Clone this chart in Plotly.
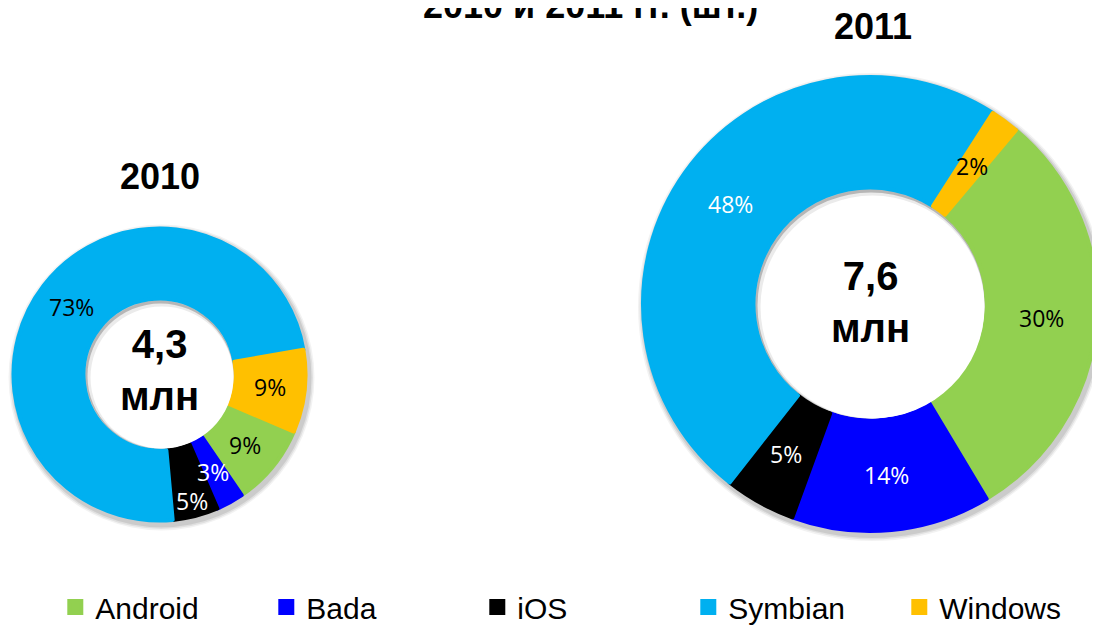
import math
import plotly.graph_objects as go

# ---- data ----
platforms = ["Android", "Bada", "iOS", "Symbian", "Windows"]
share_2010 = [9, 3, 5, 73, 9]
share_2011 = [30, 14, 5, 48, 2]
total_2010 = "4,3<br>млн"
total_2011 = "7,6<br>млн"
colors = ["#92D050", "#0000FF", "#000000", "#00B0F0", "#FFC000"]
label_colors_2010 = ["#000000", "#FFFFFF", "#FFFFFF", "#000000", "#000000"]
label_colors_2011 = ["#000000", "#FFFFFF", "#FFFFFF", "#FFFFFF", "#000000"]
title_line = "2010 и 2011 гг. (шт.)"
year_2010 = "2010"
year_2011 = "2011"

W, H = 1100, 625
OFF = 8  # page body margin shifts the figure by 8px


def fx(px):
    return (px - OFF) / W


def fy(py):
    return (H - (py - OFF)) / H


fig = go.Figure()

# layout of each donut: centre x, centre y, radius, rotation, centre-text y,
# radial position factor of each label (as Excel nudges a crowded one outward)
pies = [
    (share_2010, label_colors_2010, year_2010, total_2010,
     dict(cx=159.5, cy=374.5, R=148, rot=113, ty=369.5,
          lab_r=[0.75, 0.75, 0.88, 0.75, 0.75])),
    (share_2011, label_colors_2011, year_2011, total_2011,
     dict(cx=870, cy=304, R=229, rot=40, ty=302.5,
          lab_r=[0.75, 0.75, 0.75, 0.75, 0.75])),
]

LW = 4  # slice outline (same colour as fill)
shapes = []
for vals, lcols, year, total, g in pies:
    cx, cy, R, rot = g["cx"], g["cy"], g["R"], g["rot"]
    Rd = R - LW / 2
    hole = (0.5 * R + LW / 2) / Rd
    # soft outer shadow
    for k, a in [(5, 0.05), (3.5, 0.07), (2, 0.09)]:
        shapes.append(dict(type="circle", xref="paper", yref="paper", layer="below",
                           x0=fx(cx + 2 - R - k), x1=fx(cx + 2 + R + k),
                           y0=fy(cy + 3 + R + k), y1=fy(cy + 3 - R - k),
                           line=dict(width=0), fillcolor="rgba(0,0,0,%s)" % a))
    fig.add_trace(go.Pie(
        labels=platforms, values=vals, sort=False, direction="clockwise",
        rotation=rot, hole=hole,
        marker=dict(colors=colors, line=dict(width=LW, color=colors)),
        textinfo="none",
        domain=dict(x=[fx(cx - Rd), fx(cx + Rd)], y=[fy(cy + Rd), fy(cy - Rd)]),
        hoverinfo="label+value", name=year,
    ))
    # inner shadow of the hole (crescent on the upper-left)
    ri = 0.5 * R
    shapes.append(dict(type="circle", xref="paper", yref="paper", layer="above",
                       x0=fx(cx - ri), x1=fx(cx + ri), y0=fy(cy + ri), y1=fy(cy - ri),
                       line=dict(width=0), fillcolor="rgba(0,0,0,0.10)"))
    shapes.append(dict(type="circle", xref="paper", yref="paper", layer="above",
                       x0=fx(cx - ri + 2), x1=fx(cx + ri), y0=fy(cy + ri), y1=fy(cy - ri + 3),
                       line=dict(width=0), fillcolor="rgba(235,235,235,1)"))
    shapes.append(dict(type="circle", xref="paper", yref="paper", layer="above",
                       x0=fx(cx - ri + 5), x1=fx(cx + ri), y0=fy(cy + ri), y1=fy(cy - ri + 6),
                       line=dict(width=0), fillcolor="white"))

    # data labels at the middle of the ring, mid-angle of each slice
    total_v = float(sum(vals))
    start = rot
    for v, c, f in zip(vals, lcols, g["lab_r"]):
        span = v / total_v * 360.0
        mid = math.radians(start + span / 2)
        start += span
        rm = f * R
        fig.add_annotation(text="%d%%" % v, x=fx(cx + rm * math.sin(mid)),
                           y=fy(cy - rm * math.cos(mid)), xref="paper", yref="paper",
                           showarrow=False, xanchor="center", yanchor="middle",
                           font=dict(family="Open Sans", size=23, color=c))

    # total in the centre
    fig.add_annotation(text="<b>%s</b>" % total, x=fx(cx), y=fy(g["ty"]),
                       xref="paper", yref="paper", showarrow=False,
                       xanchor="center", yanchor="middle",
                       font=dict(size=40, family="Liberation Sans", color="#000000"))

bold = dict(family="Liberation Sans", color="#000000")
fig.add_annotation(text="<b>%s</b>" % title_line, x=fx(590), y=fy(5),
                   xref="paper", yref="paper", showarrow=False,
                   xanchor="center", yanchor="middle", font=dict(size=36, **bold))
fig.add_annotation(text="<b>%s</b>" % year_2010, x=fx(160), y=fy(177),
                   xref="paper", yref="paper", showarrow=False,
                   xanchor="center", yanchor="middle", font=dict(size=36, **bold))
fig.add_annotation(text="<b>%s</b>" % year_2011, x=fx(873), y=fy(27),
                   xref="paper", yref="paper", showarrow=False,
                   xanchor="center", yanchor="middle", font=dict(size=36, **bold))

fig.update_layout(
    width=W, height=H,
    margin=dict(l=0, r=0, t=0, b=0, autoexpand=False),
    paper_bgcolor="white", plot_bgcolor="white",
    shapes=shapes,
    showlegend=True,
    legend=dict(orientation="h", x=0.043, xanchor="left", y=0.0, yanchor="bottom",
                font=dict(family="Liberation Sans", size=30, color="#000000"),
                entrywidth=166, entrywidthmode="pixels",
                traceorder="normal", bgcolor="rgba(0,0,0,0)"),
)

fig.write_html("out.html")
